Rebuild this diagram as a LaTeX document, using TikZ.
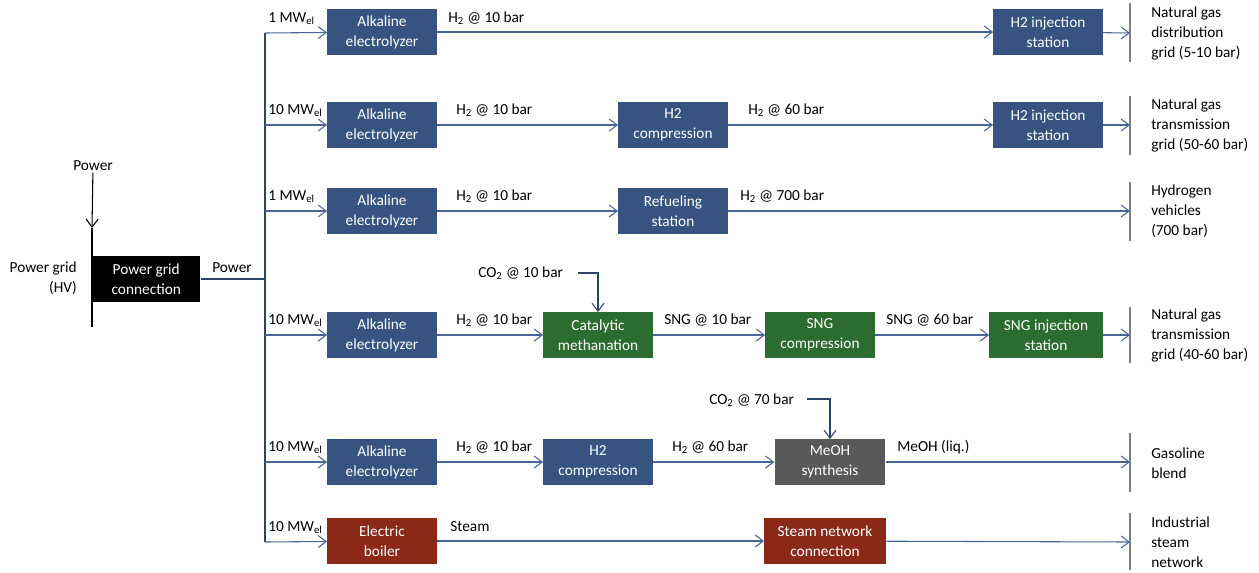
\documentclass[tikz,border=0pt]{standalone}
\usepackage{fontspec}
\setmainfont{Carlito}
\usetikzlibrary{arrows.meta}

\definecolor{unitblue}{RGB}{55,84,128}
\definecolor{unitgreen}{RGB}{44,108,47}
\definecolor{unitred}{RGB}{138,41,24}
\definecolor{unitgray}{RGB}{89,89,89}
\definecolor{flowblue}{RGB}{72,102,148}
\definecolor{busblue}{RGB}{45,68,105}
\definecolor{bargray}{RGB}{128,128,128}

\tikzset{
  unit/.style={fill=unitblue, text=white, minimum width=82pt, minimum height=34pt,
               align=center, inner sep=1pt},
  flow/.style={flowblue, line width=0.8pt, -{Straight Barb[length=6pt,width=9pt]}},
  feed/.style={busblue, line width=0.8pt, -{Straight Barb[length=6pt,width=9pt]}},
  bus/.style={busblue, line width=1.6pt},
  bar/.style={bargray, line width=2pt},
  lbl/.style={anchor=base west, inner sep=0pt},
  sinktext/.style={anchor=west, align=left, inner sep=0pt},
}

\begin{document}
\begin{tikzpicture}[x=0.75pt, y=-0.75pt, font=\fontsize{11.5}{15}\selectfont]
\useasboundingbox (0,0) rectangle (1259,572);

% grid connection
\draw[line width=2.2pt] (92,228) -- (92,327);
\node[inner sep=1pt] (pwrin) at (93,166) {Power};
\coordinate (gtop) at (92,228);
\draw[line width=0.8pt, -{Straight Barb[length=6pt,width=9pt]}] (pwrin) -- (gtop);
\node[align=right, anchor=east, inner sep=0pt] (hv) at (77,278) {Power grid\\(HV)};
\node[unit, fill=black, anchor=west, minimum width=81pt] (pgc) at (92,279) {Power grid\\connection};

% power bus
\coordinate (b1) at (265,33);
\coordinate (b2) at (265,125);
\coordinate (b3) at (265,211);
\coordinate (b4) at (265,335);
\coordinate (b5) at (265,462);
\coordinate (b6) at (265,542);
\draw[bus] (pgc.east) -- (pgc.east -| b1);
\draw[bus] (b1) -- (b6);
\node[lbl] at (212,272) {Power};

% end users
\draw[bar] (1130,3) -- (1130,62);
\draw[bar] (1130,96) -- (1130,155);
\draw[bar] (1130,182) -- (1130,241);
\draw[bar] (1130,307) -- (1130,363);
\draw[bar] (1130,433) -- (1130,492);
\draw[bar] (1130,513) -- (1130,570);
\coordinate (g1) at (1130,33);
\coordinate (g2) at (1130,125);
\coordinate (g3) at (1130,211);
\coordinate (g4) at (1130,335);
\coordinate (g5) at (1130,462);
\coordinate (g6) at (1130,542);
\node[sinktext] (ng1) at (1151,33) {Natural gas\\distribution\\grid (5-10 bar)};
\node[sinktext] (ng2) at (1151,125) {Natural gas\\transmission\\grid (50-60 bar)};
\node[sinktext] (hyv) at (1151,211) {Hydrogen\\vehicles\\(700 bar)};
\node[sinktext] (ng4) at (1151,335) {Natural gas\\transmission\\grid (40-60 bar)};
\node[sinktext] (gas) at (1151,463) {Gasoline\\blend};
\node[sinktext] (ind) at (1151,542) {Industrial\\steam\\network};

% row 1
\node[unit] (ely1) at (382,32) {Alkaline\\electrolyzer};
\node[unit] (inj1) at (1048,32) {H2 injection\\station};
\draw[flow] (b1) -- (ely1);
\draw[flow] (ely1) -- (inj1);
\draw[flow] (inj1) -- (g1);
\node[lbl] at (268,22) {1 MW\textsubscript{el}};
\node[lbl] at (448,22) {H\textsubscript{2} @ 10 bar};

% row 2
\node[unit] (ely2) at (382,125) {Alkaline\\electrolyzer};
\node[unit] (cmp2) at (673,125) {H2\\compression};
\node[unit] (inj2) at (1048,125) {H2 injection\\station};
\draw[flow] (b2) -- (ely2);
\draw[flow] (ely2) -- (cmp2);
\draw[flow] (cmp2) -- (inj2);
\draw[flow] (inj2) -- (g2);
\node[lbl] at (268,114) {10 MW\textsubscript{el}};
\node[lbl] at (456,114) {H\textsubscript{2} @ 10 bar};
\node[lbl] at (748,114) {H\textsubscript{2} @ 60 bar};

% row 3
\node[unit] (ely3) at (382,211) {Alkaline\\electrolyzer};
\node[unit] (ref3) at (673,211) {Refueling\\station};
\draw[flow] (b3) -- (ely3);
\draw[flow] (ely3) -- (ref3);
\draw[flow] (ref3) -- (g3);
\node[lbl] at (268,200) {1 MW\textsubscript{el}};
\node[lbl] at (456,200) {H\textsubscript{2} @ 10 bar};
\node[lbl] at (740,200) {H\textsubscript{2} @ 700 bar};

% row 4
\node[unit] (ely4) at (382,335) {Alkaline\\electrolyzer};
\node[unit, fill=unitgreen] (meth) at (598,335) {Catalytic\\methanation};
\node[unit, fill=unitgreen] (sngc) at (820,335) {SNG\\compression};
\node[unit, fill=unitgreen, minimum width=85pt] (sngi) at (1046,335) {SNG injection\\station};
\draw[flow] (b4) -- (ely4);
\draw[flow] (ely4) -- (meth);
\draw[flow] (meth) -- (sngc);
\draw[flow] (sngc) -- (sngi);
\draw[flow] (sngi) -- (g4);
\node[lbl] at (268,324) {10 MW\textsubscript{el}};
\node[lbl] at (456,324) {H\textsubscript{2} @ 10 bar};
\node[lbl] at (664,324) {SNG @ 10 bar};
\node[lbl] at (886,324) {SNG @ 60 bar};
\node[lbl] (co2a) at (478,277) {CO\textsubscript{2} @ 10 bar};
\coordinate (co2as) at (578,273);
\draw[feed] (co2as) -| (meth.north);

% row 5
\node[unit] (ely5) at (382,462) {Alkaline\\electrolyzer};
\node[unit] (cmp5) at (598,462) {H2\\compression};
\node[unit, fill=unitgray, minimum width=83pt] (meoh) at (830,462) {MeOH\\synthesis};
\draw[flow] (b5) -- (ely5);
\draw[flow] (ely5) -- (cmp5);
\draw[flow] (cmp5) -- (meoh);
\draw[flow] (meoh) -- (g5);
\node[lbl] at (268,451) {10 MW\textsubscript{el}};
\node[lbl] at (456,451) {H\textsubscript{2} @ 10 bar};
\node[lbl] at (672,451) {H\textsubscript{2} @ 60 bar};
\node[lbl] at (897,451) {MeOH (liq.)};
\node[lbl] (co2b) at (709,404) {CO\textsubscript{2} @ 70 bar};
\coordinate (co2bs) at (807,399);
\draw[feed] (co2bs) -| (meoh.north);

% row 6
\node[unit, fill=unitred] (boil) at (382,541) {Electric\\boiler};
\node[unit, fill=unitred, minimum width=91pt] (stm) at (825,541) {Steam network\\connection};
\draw[flow] (b6) -- (boil);
\draw[flow] (boil) -- (stm);
\draw[flow] (stm) -- (g6);
\node[lbl] at (268,531) {10 MW\textsubscript{el}};
\node[lbl] at (450,531) {Steam};

\end{tikzpicture}
\end{document}
